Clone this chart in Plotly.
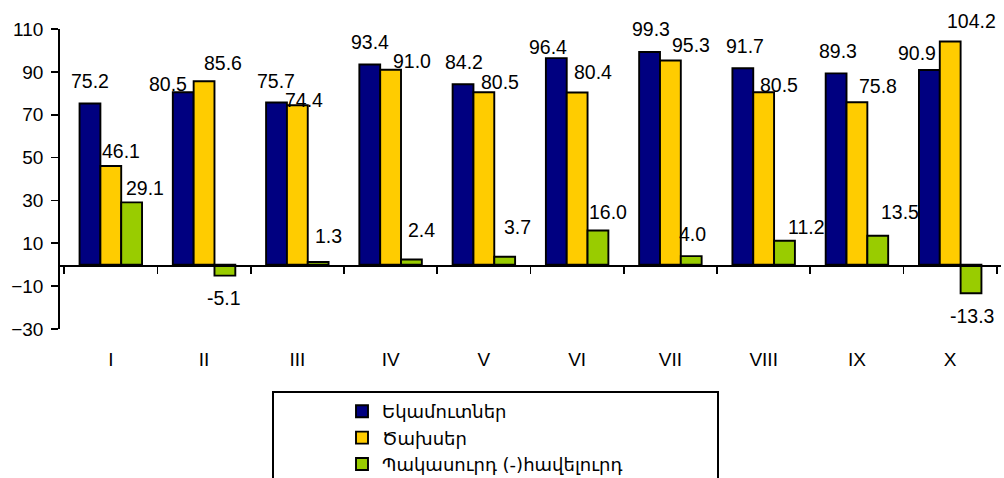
import plotly.graph_objects as go

# ---- data ----
categories = ["I", "II", "III", "IV", "V", "VI", "VII", "VIII", "IX", "X"]
revenues = [75.2, 80.5, 75.7, 93.4, 84.2, 96.4, 99.3, 91.7, 89.3, 90.9]
expenses = [46.1, 85.6, 74.4, 91.0, 80.5, 80.4, 95.3, 80.5, 75.8, 104.2]
balance = [29.1, -5.1, 1.3, 2.4, 3.7, 16.0, 4.0, 11.2, 13.5, -13.3]
series_names = ["Եկամուտներ", "Ծախսեր", "Պակասուրդ (-)հավելուրդ"]
y_tick_values = [-30, -10, 10, 30, 50, 70, 90, 110]

# ---- styling ----
colors = ["#000080", "#FFCC00", "#99CC00"]
FONT = "Liberation Sans, Arial, sans-serif"
W, H = 1004, 478
M_L, M_R, M_T, M_B = 60, 3, 29, 149
Y_MIN, Y_MAX = -30, 110
BARGAP = 0.33

# manual label nudges (pixels): horizontal shift, distance from bar end
label_dx = [
    [0, -15, 0, 0, 1, -8, 2, 2, 2, -12],
    [10, 19, 7, 21, 16, 16, 21, 15, 21, 21],
    [13, -1, 10, 10, 13, 10, 1, 22, 22, 1],
]
label_dy = [
    [23, 8, 22, 23, 22, 11, 23, 22, 22, 17],
    [15, 18, 5, 9, 10, 20, 16, 7, 16, 20],
    [14, 22, 26, 30, 30, 18, 22, 14, 24, 23],
]

series = [revenues, expenses, balance]

fig = go.Figure()
for name, vals, col in zip(series_names, series, colors):
    fig.add_trace(go.Bar(
        x=categories, y=vals, name=name,
        marker=dict(color=col, line=dict(color="black", width=1.9)),
        hoverinfo="skip",
    ))

# invisible trace to carry the zero-level axis with boundary ticks
fig.add_trace(go.Scatter(
    x=categories, y=[0] * len(categories), xaxis="x2", mode="markers",
    marker=dict(opacity=0), showlegend=False, hoverinfo="skip",
))

plot_w = W - M_L - M_R
bar_px = plot_w / len(categories) * (1 - BARGAP) / 3

annotations = []
for j, vals in enumerate(series):
    for i, v in enumerate(vals):
        sign = 1 if v >= 0 else -1
        annotations.append(dict(
            x=categories[i], y=v, xref="x", yref="y",
            text=f"{v:.1f}", showarrow=False,
            xshift=(j - 1) * bar_px + label_dx[j][i],
            yshift=sign * label_dy[j][i],
            xanchor="center", yanchor="middle",
            font=dict(family=FONT, size=19.5, color="black"),
        ))

zero_pos = (0 - Y_MIN) / (Y_MAX - Y_MIN)
plot_h = H - M_T - M_B

def px_to_paper_x(px):
    return (px - M_L) / plot_w

def px_to_paper_y(py):
    return (H - M_B - py) / plot_h

fig.update_layout(
    width=W, height=H,
    margin=dict(l=M_L, r=M_R, t=M_T, b=M_B, autoexpand=False),
    paper_bgcolor="white", plot_bgcolor="white",
    barmode="group", bargap=BARGAP, bargroupgap=0,
    font=dict(family=FONT, size=19, color="black"),
    annotations=annotations,
    xaxis=dict(
        type="category", categoryorder="array", categoryarray=categories,
        showline=False, showgrid=False, zeroline=False, ticks="",
        ticklabelstandoff=17, automargin=False,
        tickfont=dict(family=FONT, size=19, color="black"),
    ),
    xaxis2=dict(
        type="category", categoryorder="array", categoryarray=categories,
        overlaying="x", matches="x", anchor="free", position=zero_pos,
        showline=True, linecolor="black", linewidth=1.8,
        ticks="outside", tickson="boundaries", ticklen=7, tickwidth=1.8,
        tickcolor="black", showticklabels=False, showgrid=False,
        automargin=False,
    ),
    yaxis=dict(
        range=[Y_MIN, Y_MAX], tickvals=y_tick_values,
        showline=True, linecolor="black", linewidth=1.8,
        ticks="outside", ticklen=7, tickwidth=1.8, tickcolor="black",
        showgrid=False, zeroline=False, automargin=False,
        ticklabelstandoff=4,
        tickfont=dict(family=FONT, size=19, color="black"),
    ),
    showlegend=True,
    legend=dict(
        x=px_to_paper_x(342), y=px_to_paper_y(393),
        xanchor="left", yanchor="top",
        bgcolor="rgba(0,0,0,0)", borderwidth=0,
        font=dict(family="DejaVu Sans", size=18, color="black"),
        itemwidth=30, tracegroupgap=0,
    ),
    shapes=[dict(
        type="rect", xref="paper", yref="paper",
        x0=px_to_paper_x(273), x1=px_to_paper_x(718),
        y0=px_to_paper_y(392), y1=px_to_paper_y(520),
        line=dict(color="black", width=2), fillcolor="rgba(0,0,0,0)",
        layer="above",
    )],
)

fig.write_html(
    "out.html",
    config={"displayModeBar": False, "staticPlot": True},
    post_script="document.body.style.margin='0';document.body.style.padding='0';",
)
